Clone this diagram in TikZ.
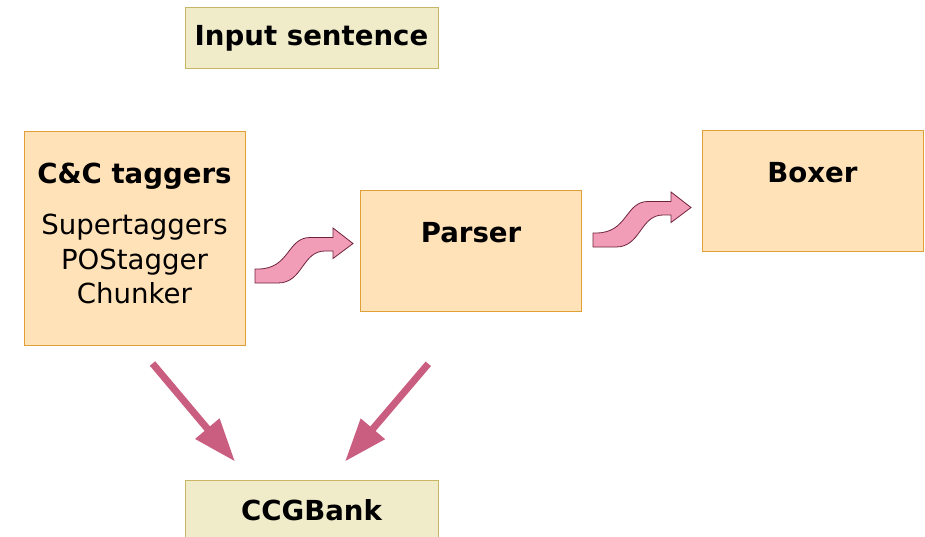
\documentclass[tikz,border=0pt]{standalone}
\usepackage{fontspec}
\setmainfont{DejaVu Sans}
\usetikzlibrary{arrows.meta}
\definecolor{peach}{RGB}{255,226,184}
\definecolor{peachline}{RGB}{224,160,56}
\definecolor{khaki}{RGB}{240,235,201}
\definecolor{khakiline}{RGB}{201,182,100}
\definecolor{pinkfill}{RGB}{242,157,184}
\definecolor{pinkline}{RGB}{110,35,60}
\definecolor{rose}{RGB}{201,94,128}
\begin{document}
\begin{tikzpicture}[x=1pt,y=-1pt,
	every node/.style={font=\fontsize{27.6}{34.4}\selectfont},
	stage/.style={draw=peachline, fill=peach, line width=1pt, minimum width=221pt, inner sep=0pt},
	data/.style={draw=khakiline, fill=khaki, line width=1pt, minimum width=253pt, minimum height=61pt, inner sep=0pt, font=\fontsize{27.6}{34.4}\selectfont\bfseries},
	title/.style={anchor=base, font=\fontsize{27.6}{34.4}\selectfont\bfseries},
	wavy/.style={fill=pinkfill, draw=pinkline, line width=0.8pt},
	down/.style={draw=rose, line width=7pt, -{Triangle[length=43pt,width=30pt]}}]
	
	\useasboundingbox (0,0) rectangle (925,537);
	
	\node[data] (input) at (311.5,38.5) {Input sentence};
	\node[stage, minimum height=213pt] (cc) at (134.5,238.5) {};
	\node[stage, minimum height=120pt] (parser) at (471,251) {};
	\node[stage, minimum height=120pt] (boxer) at (812.5,191) {};
	\node[data] (ccgbank) at (311.5,510.5) {CCGBank};
	
	\node[title] (cctitle) at ([yshift=-52pt]cc.north) {C\&C taggers};
	\node[align=center] (cclist) at (134.5,259) {Supertaggers\\POStagger\\Chunker};
	\node[title] (parsertitle) at ([yshift=-52pt]parser.north) {Parser};
	\node[title] (boxertitle) at ([yshift=-52pt]boxer.north) {Boxer};
	
	% wavy arrows
	\foreach \dx/\dy in {0/0, 338/-36}
		\draw[wavy, shift={(\dx,\dy)}] (255,269) -- (258,269) .. controls (290,269) and (287,237.5) .. (310,237.5) -- (333,237.5) -- (333,228) -- (353,243.5) -- (333,258.5) -- (333,251) -- (325,251) .. controls (302,251) and (303,283) .. (278,283) -- (255,283) -- cycle;
	
	\draw[down] ([xshift=18pt,yshift=-18pt]cc.south) -- ([xshift=-76.5pt,yshift=18pt]ccgbank.north);
	\draw[down] ([xshift=-42.7pt,yshift=-52.3pt]parser.south) -- ([xshift=33.5pt,yshift=18pt]ccgbank.north);
	
\end{tikzpicture}
\end{document}
